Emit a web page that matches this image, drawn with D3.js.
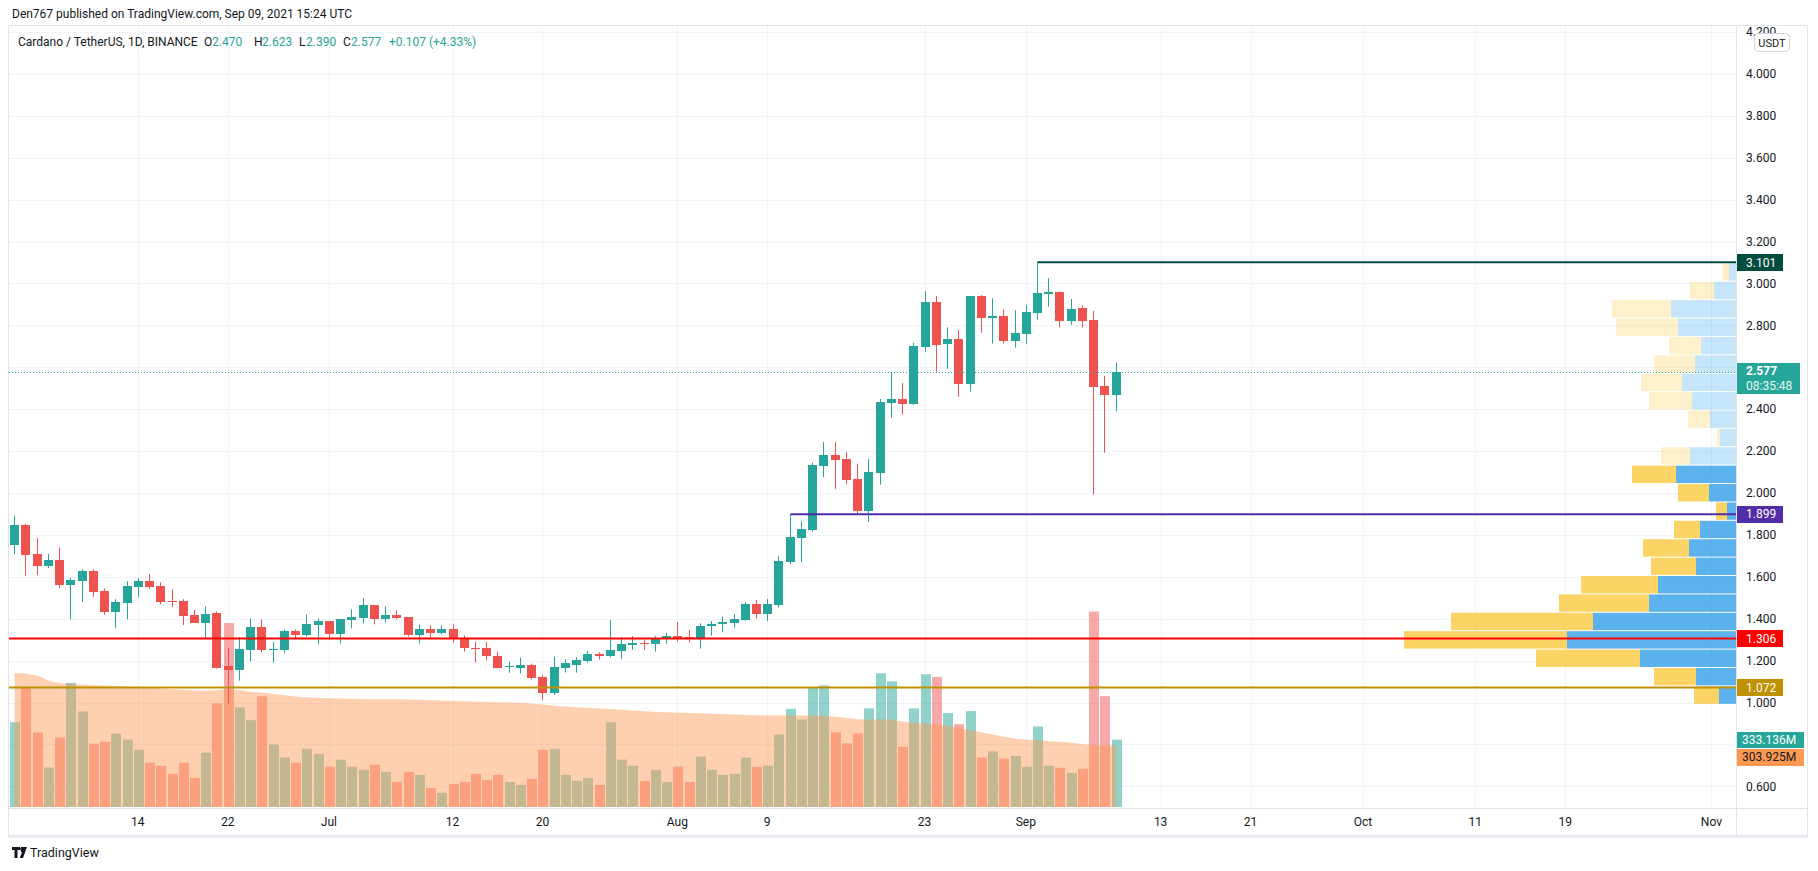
<!DOCTYPE html>
<html>
<head>
<meta charset="utf-8">
<script src="https://cdn.jsdelivr.net/npm/d3@7"></script>
<style>
  html, body { margin: 0; padding: 0; background: #fff; }
  svg { display: block; font-family: Roboto, "Noto Sans", sans-serif; }
</style>
</head>
<body>
<svg id="chart" width="1818" height="871"></svg>
<script>
// daily candles, ADA/USDT, first bar 2021-06-03
const firstDay = "2021-06-03";
const opens = [1.754, 1.848, 1.709, 1.653, 1.680, 1.562, 1.581, 1.627, 1.531, 1.432,
  1.475, 1.552, 1.579, 1.555, 1.483, 1.483, 1.416, 1.379, 1.426, 1.173,
  1.154, 1.250, 1.358, 1.250, 1.250, 1.339, 1.322, 1.371, 1.387, 1.325,
  1.394, 1.403, 1.464, 1.397, 1.416, 1.406, 1.320, 1.349, 1.330, 1.349,
  1.310, 1.262, 1.262, 1.224, 1.170, 1.166, 1.179, 1.120, 1.047, 1.166,
  1.179, 1.198, 1.232, 1.222, 1.247, 1.274, 1.285, 1.281, 1.305, 1.317,
  1.312, 1.301, 1.363, 1.373, 1.381, 1.394, 1.470, 1.421, 1.467, 1.671,
  1.787, 1.823, 2.130, 2.181, 2.161, 2.065, 1.916, 2.097, 2.431, 2.449,
  2.426, 2.699, 2.912, 2.713, 2.734, 2.522, 2.940, 2.837, 2.845, 2.727,
  2.760, 2.861, 2.952, 2.959, 2.822, 2.883, 2.826, 2.511, 2.470];
const highs = [1.893, 1.852, 1.784, 1.709, 1.741, 1.597, 1.637, 1.637, 1.544, 1.493,
  1.579, 1.594, 1.613, 1.574, 1.541, 1.493, 1.440, 1.459, 1.435, 1.262,
  1.312, 1.402, 1.397, 1.290, 1.349, 1.349, 1.421, 1.402, 1.389, 1.399,
  1.445, 1.498, 1.466, 1.459, 1.440, 1.408, 1.373, 1.368, 1.368, 1.373,
  1.320, 1.291, 1.291, 1.243, 1.195, 1.214, 1.186, 1.130, 1.219, 1.206,
  1.216, 1.246, 1.240, 1.394, 1.311, 1.317, 1.300, 1.317, 1.333, 1.384,
  1.346, 1.378, 1.389, 1.410, 1.422, 1.480, 1.490, 1.494, 1.700, 1.899,
  1.866, 2.145, 2.243, 2.243, 2.196, 2.140, 2.162, 2.449, 2.575, 2.525,
  2.716, 2.964, 2.940, 2.791, 2.778, 2.940, 2.945, 2.930, 2.878, 2.873,
  2.897, 3.101, 3.026, 2.962, 2.926, 2.897, 2.869, 2.559, 2.623];
const lows = [1.709, 1.605, 1.608, 1.642, 1.546, 1.397, 1.480, 1.504, 1.418, 1.355,
  1.397, 1.504, 1.541, 1.469, 1.456, 1.370, 1.379, 1.304, 1.162, 0.994,
  1.104, 1.195, 1.240, 1.190, 1.235, 1.304, 1.315, 1.277, 1.299, 1.282,
  1.354, 1.378, 1.373, 1.382, 1.397, 1.315, 1.282, 1.310, 1.325, 1.286,
  1.243, 1.190, 1.200, 1.162, 1.142, 1.139, 1.110, 1.012, 1.036, 1.143,
  1.143, 1.190, 1.205, 1.216, 1.207, 1.251, 1.251, 1.243, 1.281, 1.290,
  1.287, 1.257, 1.319, 1.335, 1.357, 1.390, 1.399, 1.389, 1.454, 1.661,
  1.671, 1.815, 2.076, 2.020, 2.043, 1.900, 1.862, 2.040, 2.360, 2.374,
  2.421, 2.674, 2.579, 2.593, 2.460, 2.484, 2.765, 2.713, 2.713, 2.694,
  2.713, 2.827, 2.890, 2.789, 2.803, 2.789, 1.992, 2.192, 2.390];
const closes = [1.848, 1.706, 1.653, 1.680, 1.562, 1.584, 1.629, 1.528, 1.432, 1.478,
  1.555, 1.579, 1.552, 1.480, 1.480, 1.413, 1.379, 1.424, 1.166, 1.154,
  1.253, 1.358, 1.250, 1.253, 1.339, 1.322, 1.373, 1.387, 1.325, 1.397,
  1.406, 1.464, 1.397, 1.416, 1.402, 1.320, 1.349, 1.330, 1.349, 1.306,
  1.258, 1.259, 1.221, 1.166, 1.173, 1.179, 1.118, 1.047, 1.171, 1.187,
  1.203, 1.232, 1.222, 1.251, 1.278, 1.285, 1.279, 1.309, 1.317, 1.301,
  1.301, 1.365, 1.375, 1.386, 1.399, 1.470, 1.421, 1.470, 1.674, 1.790,
  1.827, 2.134, 2.181, 2.158, 2.062, 1.916, 2.099, 2.434, 2.449, 2.426,
  2.702, 2.912, 2.708, 2.734, 2.522, 2.940, 2.837, 2.845, 2.727, 2.764,
  2.864, 2.955, 2.959, 2.822, 2.878, 2.822, 2.507, 2.470, 2.577];
// volume in millions of ADA
const volumes = [419, 590, 368, 195, 344, 613, 472, 313, 323, 363,
  333, 283, 219, 204, 164, 219, 144, 268, 512, 909,
  492, 429, 547, 308, 245, 219, 288, 263, 199, 234,
  199, 184, 209, 174, 124, 174, 159, 94, 70, 114,
  124, 164, 134, 159, 124, 109, 139, 283, 288, 159,
  129, 144, 109, 419, 234, 204, 129, 184, 124, 199,
  124, 249, 184, 159, 164, 244, 199, 204, 358, 485,
  432, 590, 601, 369, 315, 364, 487, 661, 621, 298,
  487, 656, 643, 464, 409, 474, 245, 275, 239, 253,
  199, 398, 204, 194, 169, 189, 966, 548, 333.136];
const volumeMA = [662, 660, 650, 625, 612, 608, 605, 602, 600, 598,
  596, 592, 588, 585, 582, 579, 576, 575, 577, 582,
  578, 570, 566, 558, 552, 546, 542, 539, 537, 536,
  535, 534, 533, 532, 532, 531, 530, 528, 526, 524,
  523, 521, 519, 518, 516, 515, 512, 506, 500, 496,
  493, 490, 487, 484, 480, 477, 473, 470, 468, 466,
  465, 463, 461, 459, 457, 455, 453, 452, 452, 452,
  452, 452, 450, 446, 440, 434, 432, 432, 432, 422,
  416, 412, 408, 402, 390, 380, 369, 358, 347, 338,
  334, 330, 326, 322, 318, 310, 306, 304, 303.925];

// visible range volume profile, rows from lowest price upward
const profileLow = 0.994;
const profileHigh = 3.101;
const profileUp = [204, 480, 1152, 2028, 1716, 1044, 936, 480, 564, 432, 108, 324,
  720, 552, 192, 312, 528, 648, 492, 420, 696, 780, 264, 84];
const profileDown = [300, 504, 1248, 1956, 1704, 1080, 924, 540, 552, 312, 132, 372,
  528, 348, 36, 264, 516, 492, 492, 384, 744, 708, 288, 80];
const valueAreaRows = 13;

// horizontal levels
const levelPrices = [3.101, 1.899, 1.306, 1.072];
const levelStarts = ["2021-09-02", "2021-08-11", null, null];
const levelColors = ["#004d40", "#512da8", "#ff0000", "#bf9000"];

const priceTicks = [0.6, 0.8, 1.0, 1.2, 1.4, 1.6, 1.8, 2.0, 2.2, 2.4, 2.6, 2.8,
  3.0, 3.2, 3.4, 3.6, 3.8, 4.0, 4.2];
const tickDates = ["2021-06-14", "2021-06-22", "2021-07-01", "2021-07-12", "2021-07-20",
  "2021-08-01", "2021-08-09", "2021-08-23", "2021-09-01", "2021-09-13", "2021-09-21",
  "2021-10-01", "2021-10-11", "2021-10-19", "2021-11-01"];
const tickLabels = ["14", "22", "Jul", "12", "20", "Aug", "9", "23", "Sep", "13", "21",
  "Oct", "11", "19", "Nov"];

const countdown = "08:35:48";

const pane = { left: 9, right: 1736, top: 26, bottom: 808 };
const frameRight = 1808;
const frameBottom = 836;
const upColor = "#26a69a";
const downColor = "#ef5350";
const textColor = "#131722";
const gridColor = "#f0f3fa";

const parse = d3.utcParse("%Y-%m-%d");
const candles = opens.map((o, i) => ({
  date: d3.utcDay.offset(parse(firstDay), i),
  o, h: highs[i], l: lows[i], c: closes[i], v: volumes[i], ma: volumeMA[i]
}));
const last = candles[candles.length - 1];
const prev = candles[candles.length - 2];

const x = d3.scaleUtc([parse("2021-06-14"), parse("2021-11-01")], [137.8, 1711.4]);
const y = d3.scaleLinear([0.6, 4.0], [786.3, 74]);
const yVol = d3.scaleLinear([0, d3.max(volumes)], [807, 807 - 0.25 * (pane.bottom - pane.top)]);
const fmt = d3.format(".3f");

const svg = d3.select("#chart");
const defs = svg.append("defs");
defs.append("clipPath").attr("id", "pane-clip").append("rect")
  .attr("x", pane.left).attr("y", pane.top)
  .attr("width", pane.right - pane.left).attr("height", pane.bottom - pane.top);
defs.append("clipPath").attr("id", "axis-clip").append("rect")
  .attr("x", pane.right).attr("y", pane.top)
  .attr("width", frameRight - pane.right).attr("height", pane.bottom - pane.top);

svg.append("rect").attr("width", 1818).attr("height", 871).attr("fill", "#fff");

const plot = svg.append("g").attr("clip-path", "url(#pane-clip)");

// grid
plot.append("g").selectAll("line")
  .data(priceTicks)
  .join("line")
  .attr("x1", pane.left).attr("x2", pane.right)
  .attr("y1", d => Math.round(y(d)) + 0.5).attr("y2", d => Math.round(y(d)) + 0.5)
  .attr("stroke", gridColor);
plot.append("g").selectAll("line")
  .data(tickDates)
  .join("line")
  .attr("x1", d => Math.round(x(parse(d))) + 0.5).attr("x2", d => Math.round(x(parse(d))) + 0.5)
  .attr("y1", pane.top).attr("y2", pane.bottom)
  .attr("stroke", gridColor);

// volume bars
const cx = d => Math.round(x(d.date));
plot.append("g").selectAll("rect")
  .data(candles)
  .join("rect")
  .attr("x", d => cx(d) - 4)
  .attr("width", 10)
  .attr("y", d => yVol(d.v))
  .attr("height", d => yVol(0) - yVol(d.v))
  .attr("fill", d => d.c >= d.o ? upColor : downColor)
  .attr("fill-opacity", 0.5);

// volume moving average area
const maArea = d3.area()
  .x(d => cx(d) + 0.5)
  .y0(yVol(0))
  .y1(d => yVol(d.ma));
plot.append("path")
  .attr("d", maArea(candles))
  .attr("fill", "#ff9850")
  .attr("fill-opacity", 0.46);

// volume profile
const rowStep = (profileHigh - profileLow) / profileUp.length;
const rows = profileUp.map((up, i) => ({
  lo: profileLow + i * rowStep,
  hi: profileLow + (i + 1) * rowStep,
  up, down: profileDown[i],
  inside: i < valueAreaRows
}));
const pw = d3.scaleLinear([0, d3.max(rows, r => r.up + r.down)], [0, 332]);
const profile = plot.append("g");
profile.selectAll(".up")
  .data(rows)
  .join("rect")
  .attr("class", "up")
  .attr("x", r => pane.right - pw(r.up))
  .attr("width", r => pw(r.up))
  .attr("y", r => y(r.hi) + 1)
  .attr("height", r => y(r.lo) - y(r.hi) - 1)
  .attr("fill", "#1592e6")
  .attr("fill-opacity", r => r.inside ? 0.7 : 0.24);
profile.selectAll(".down")
  .data(rows)
  .join("rect")
  .attr("class", "down")
  .attr("x", r => pane.right - pw(r.up) - pw(r.down))
  .attr("width", r => pw(r.down))
  .attr("y", r => y(r.hi) + 1)
  .attr("height", r => y(r.lo) - y(r.hi) - 1)
  .attr("fill", "#fbc123")
  .attr("fill-opacity", r => r.inside ? 0.7 : 0.24);

// candles
const candle = plot.append("g").selectAll("g")
  .data(candles)
  .join("g")
  .attr("fill", d => d.c >= d.o ? upColor : downColor);
candle.append("rect")
  .attr("x", d => cx(d))
  .attr("width", 1)
  .attr("y", d => y(d.h))
  .attr("height", d => y(d.l) - y(d.h));
candle.append("rect")
  .attr("x", d => cx(d) - 4)
  .attr("width", 9)
  .attr("y", d => Math.round(y(Math.max(d.o, d.c))))
  .attr("height", d => Math.max(1, Math.round(y(Math.min(d.o, d.c))) - Math.round(y(Math.max(d.o, d.c)))));

// levels and last price line
plot.append("g").selectAll("line")
  .data(levelPrices)
  .join("line")
  .attr("x1", (p, i) => levelStarts[i] ? cx({ date: parse(levelStarts[i]) }) + 0.5 : pane.left)
  .attr("x2", pane.right)
  .attr("y1", p => y(p)).attr("y2", p => y(p))
  .attr("stroke", (p, i) => levelColors[i])
  .attr("stroke-width", 2);
plot.append("line")
  .attr("x1", pane.left).attr("x2", pane.right)
  .attr("y1", Math.round(y(last.c)) + 0.5).attr("y2", Math.round(y(last.c)) + 0.5)
  .attr("stroke", upColor)
  .attr("stroke-dasharray", "1 2");

// frame
const frame = svg.append("g").attr("stroke", "#e0e3eb").attr("fill", "none");
frame.append("rect")
  .attr("x", pane.left - 0.5).attr("y", pane.top - 0.5)
  .attr("width", frameRight - pane.left).attr("height", frameBottom - pane.top);
frame.append("line")
  .attr("x1", pane.right + 0.5).attr("x2", pane.right + 0.5)
  .attr("y1", pane.top).attr("y2", frameBottom);
frame.append("line")
  .attr("x1", pane.left).attr("x2", frameRight)
  .attr("y1", pane.bottom + 0.5).attr("y2", pane.bottom + 0.5);
frame.append("line")
  .attr("x1", pane.left - 1).attr("x2", frameRight)
  .attr("y1", frameBottom + 1).attr("y2", frameBottom + 1)
  .attr("stroke", "#ececf1").attr("stroke-width", 2);

// boxes on the price axis: levels, last price, volume and its average
const lastY = Math.round(y(last.c));
const volY = Math.round(yVol(last.v));
const maY = Math.max(Math.round(yVol(last.ma)), volY + 17);
const boxes = levelPrices.map(p => [Math.round(y(p)) - 8, Math.round(y(p)) + 9])
  .concat([[lastY - 9, lastY + 22], [volY - 8, maY + 9]]);

// price axis labels, skipping the ones the boxes cover
svg.append("g").attr("clip-path", "url(#axis-clip)")
  .selectAll("text")
  .data(priceTicks.filter(p => !boxes.some(([t, b]) => y(p) > t - 2 && y(p) < b + 2)))
  .join("text")
  .attr("x", 1746)
  .attr("y", p => y(p))
  .attr("dy", "0.35em")
  .attr("font-size", 12)
  .attr("fill", textColor)
  .text(fmt);

const labels = svg.append("g").attr("font-size", 12);
labels.selectAll("rect")
  .data(levelPrices)
  .join("rect")
  .attr("x", pane.right + 1).attr("width", 46)
  .attr("y", p => Math.round(y(p)) - 8).attr("height", 17)
  .attr("fill", (p, i) => levelColors[i]);
labels.selectAll("text")
  .data(levelPrices)
  .join("text")
  .attr("x", 1746).attr("y", p => y(p))
  .attr("dy", "0.35em")
  .attr("fill", "#fff")
  .text(fmt);

labels.append("rect")
  .attr("x", pane.right + 1).attr("width", 63)
  .attr("y", lastY - 9).attr("height", 31)
  .attr("fill", upColor);
labels.append("text")
  .attr("x", 1746).attr("y", lastY - 1).attr("dy", "0.35em")
  .attr("fill", "#fff").attr("font-weight", "bold")
  .text(fmt(last.c));
labels.append("text")
  .attr("x", 1746).attr("y", lastY + 14).attr("dy", "0.35em")
  .attr("fill", "#e6f6f4")
  .text(countdown);

const volFmt = v => d3.format(".3f")(v) + "M";
labels.append("rect")
  .attr("x", pane.right + 1).attr("width", 67)
  .attr("y", volY - 8).attr("height", 16)
  .attr("fill", upColor);
labels.append("text")
  .attr("x", 1742).attr("y", volY).attr("dy", "0.35em")
  .attr("fill", "#fff")
  .text(volFmt(last.v));
labels.append("rect")
  .attr("x", pane.right + 1).attr("width", 67)
  .attr("y", maY - 8).attr("height", 17)
  .attr("fill", "#ff9850");
labels.append("text")
  .attr("x", 1742).attr("y", maY).attr("dy", "0.35em")
  .attr("fill", textColor)
  .text(volFmt(last.ma));

// currency badge
svg.append("rect")
  .attr("x", 1754.5).attr("y", 33.5).attr("width", 35).attr("height", 18).attr("rx", 4)
  .attr("fill", "#fff").attr("stroke", "#d1d4dc");
svg.append("text")
  .attr("x", 1772).attr("y", 43).attr("dy", "0.35em")
  .attr("text-anchor", "middle").attr("font-size", 11).attr("fill", textColor)
  .text("USDT");

// time axis labels
svg.append("g").selectAll("text")
  .data(tickDates)
  .join("text")
  .attr("x", d => x(parse(d)))
  .attr("y", 822)
  .attr("dy", "0.35em")
  .attr("text-anchor", "middle")
  .attr("font-size", 12)
  .attr("fill", textColor)
  .text((d, i) => tickLabels[i]);

// header and legend
svg.append("text")
  .attr("x", 12).attr("y", 14).attr("dy", "0.35em")
  .attr("font-size", 12).attr("fill", textColor)
  .text("Den767 published on TradingView.com, Sep 09, 2021 15:24 UTC");

const change = last.c - prev.c;
const legendItems = [
  { x: 18, text: "Cardano / TetherUS, 1D, BINANCE", color: textColor },
  { x: 204, text: "O", color: textColor }, { x: 212, text: fmt(last.o), color: upColor },
  { x: 254, text: "H", color: textColor }, { x: 262, text: fmt(last.h), color: upColor },
  { x: 299, text: "L", color: textColor }, { x: 306, text: fmt(last.l), color: upColor },
  { x: 343, text: "C", color: textColor }, { x: 351, text: fmt(last.c), color: upColor },
  { x: 389, text: `+${fmt(change)} (+${d3.format(".2f")(change / prev.c * 100)}%)`, color: upColor }
];
svg.append("g").selectAll("text")
  .data(legendItems)
  .join("text")
  .attr("x", d => d.x).attr("y", 42).attr("dy", "0.35em")
  .attr("font-size", 12)
  .attr("fill", d => d.color)
  .text(d => d.text);

// TradingView mark
const logo = svg.append("g").attr("fill", textColor);
logo.append("path").attr("d", "M12,847h8v3h-2.5v8h-3v-8h-2.5z");
logo.append("path").attr("d", "M21,847h6l-4,11h-3.2l2.2,-6h-1z");
logo.append("circle").attr("cx", 21.7).attr("cy", 849).attr("r", 1.6);
svg.append("text")
  .attr("x", 30).attr("y", 853).attr("dy", "0.35em")
  .attr("font-size", 12.5).attr("fill", textColor)
  .text("TradingView");
</script>
</body>
</html>
